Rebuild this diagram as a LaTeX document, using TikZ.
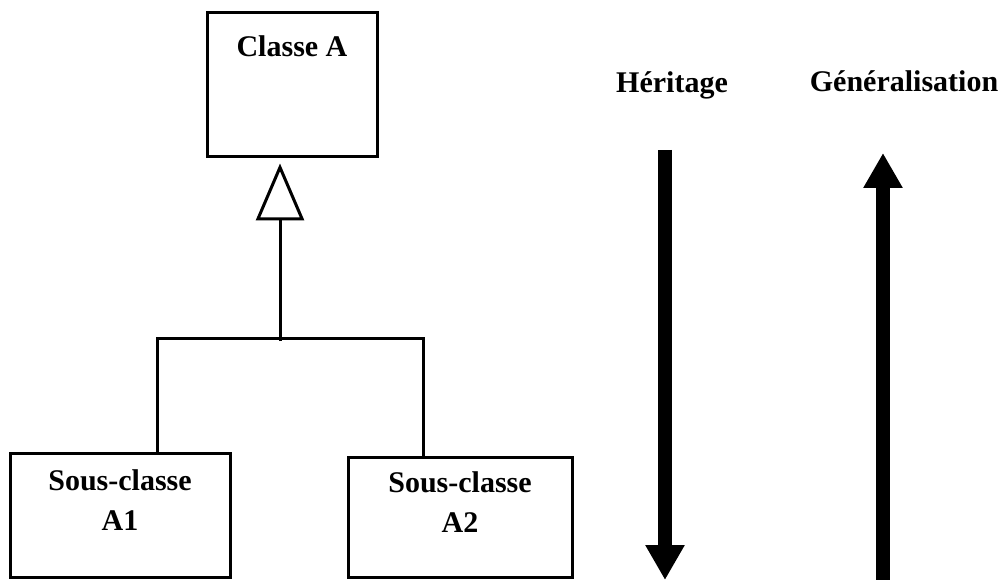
\documentclass[tikz,border=0pt]{standalone}
\usepackage{fontspec}
\setmainfont{Liberation Serif}
\usetikzlibrary{arrows.meta, positioning}

\begin{document}
\begin{tikzpicture}[
    x=1pt, y=-1pt,
    txt/.style={
        font=\fontsize{30}{40}\selectfont\bfseries,
        align=center,
        inner sep=0pt
    },
    classbox/.style={
        draw=black,
        rectangle,
        line width=3pt,
        fill=white
    },
    link/.style={
        draw=black,
        line width=3pt
    },
    generalization/.style={
        link,
        -{Triangle[open, length=57pt, width=48pt, line width=3pt]},
        shorten >=5pt
    },
    bigarrow/.style={
        draw=black,
        line width=14pt,
        -{Triangle[length=35pt, width=37pt]}
    }
]
    \useasboundingbox (0,0) rectangle (1002,580);

    % classes
    \node[classbox, minimum width=170pt, minimum height=144pt] (classA) at (292,85) {};
    \node[txt, anchor=base] (classAtxt) at (292,57) {Classe A};

    \node[classbox, minimum width=220pt, minimum height=124pt] (sousA1) at (120,515) {};
    \node[txt] (sousA1txt) at ([yshift=15pt]sousA1.center) {Sous-classe\\A1};

    \node[classbox, minimum width=224pt, minimum height=120pt] (sousA2) at (460,517) {};
    \node[txt] (sousA2txt) at ([yshift=15pt]sousA2.center) {Sous-classe\\A2};

    % branches of the inheritance tree
    \coordinate (joint) at (280,338);
    \coordinate (brL) at (157,338);
    \coordinate (brR) at (423,338);

    \draw[link] (brL |- sousA1.north) -- (brL) -- (brR) -- (brR |- sousA2.north);
    \draw[generalization] ([yshift=-3pt]joint) -- (joint |- classA.south);

    % direction labels
    \node[txt, anchor=base] (herit) at (672,93) {Héritage};
    \node[txt, anchor=base] (gener) at (904,92) {Généralisation};

    \coordinate (heritTop) at (665,150);
    \coordinate (heritEnd) at (665,580);
    \coordinate (generTop) at (883,153);
    \coordinate (generEnd) at (883,580);

    \draw[bigarrow] (heritTop) -- (heritEnd);
    \draw[bigarrow] (generEnd) -- (generTop);
\end{tikzpicture}
\end{document}
